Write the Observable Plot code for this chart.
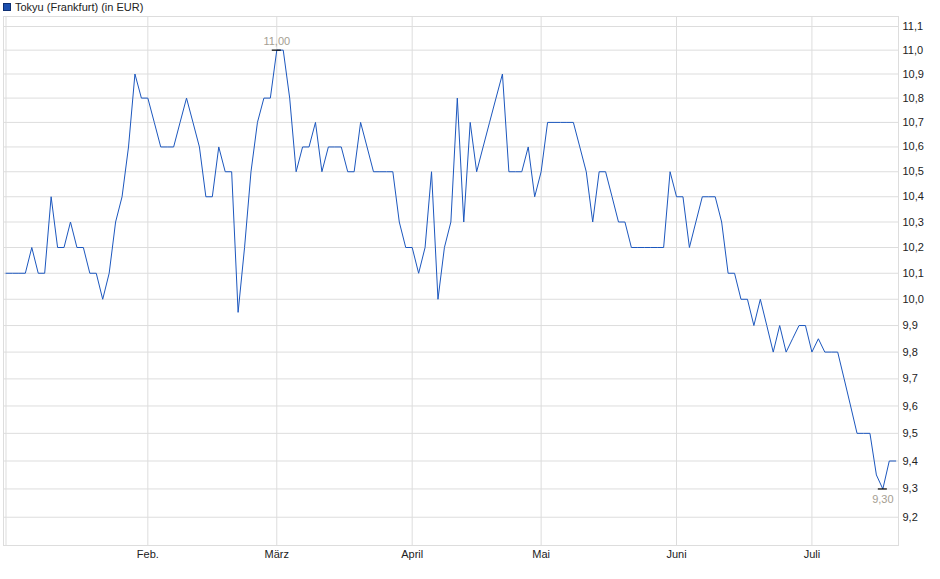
<!DOCTYPE html>
<html>
<head>
<meta charset="utf-8">
<script src="https://cdn.jsdelivr.net/npm/d3@7"></script>
<script src="https://cdn.jsdelivr.net/npm/@observablehq/plot@0.6"></script>
<style>
  html, body { margin: 0; padding: 0; background: #fff; }
  #wrap { position: relative; width: 940px; height: 579px; font-family: "Liberation Sans", Arial, sans-serif; }
  #title { position: absolute; left: 15px; top: 0px; font-size: 11px; line-height: 14px; color: #222; }
  #swatch { position: absolute; left: 3px; top: 3px; width: 6px; height: 6px; background: #1b4fae; border: 1px solid #0e2f72; }
  #chart { position: absolute; left: 0; top: 0; }
</style>
</head>
<body>
<div id="wrap">
  <div id="chart"></div>
  <div id="swatch"></div>
  <div id="title">Tokyu (Frankfurt) (in EUR)</div>
</div>
<script>
// Daily closing prices (trading days, Jan – Jul)
const prices = [
  10.1, 10.1, 10.1, 10.1, 10.2, 10.1, 10.1, 10.4, 10.2, 10.2,
  10.3, 10.2, 10.2, 10.1, 10.1, 10.0, 10.1, 10.3, 10.4, 10.6,
  10.9, 10.8, 10.8, 10.7, 10.6, 10.6, 10.6, 10.7, 10.8, 10.7,
  10.6, 10.4, 10.4, 10.6, 10.5, 10.5, 9.95, 10.2, 10.5, 10.7,
  10.8, 10.8, 11.0, 11.0, 10.8, 10.5, 10.6, 10.6, 10.7, 10.5,
  10.6, 10.6, 10.6, 10.5, 10.5, 10.7, 10.6, 10.5, 10.5, 10.5,
  10.5, 10.3, 10.2, 10.2, 10.1, 10.2, 10.5, 10.0, 10.2, 10.3,
  10.8, 10.3, 10.7, 10.5, 10.6, 10.7, 10.8, 10.9, 10.5, 10.5,
  10.5, 10.6, 10.4, 10.5, 10.7, 10.7, 10.7, 10.7, 10.7, 10.6,
  10.5, 10.3, 10.5, 10.5, 10.4, 10.3, 10.3, 10.2, 10.2, 10.2,
  10.2, 10.2, 10.2, 10.5, 10.4, 10.4, 10.2, 10.3, 10.4, 10.4,
  10.4, 10.3, 10.1, 10.1, 10.0, 10.0, 9.9, 10.0, 9.9, 9.8,
  9.9, 9.8, 9.85, 9.9, 9.9, 9.8, 9.85, 9.8, 9.8, 9.8,
  9.7, 9.6, 9.5, 9.5, 9.5, 9.35, 9.3, 9.4, 9.4
];
// Trading-day index of each month start and its label
const monthIdx = [0, 22, 42, 63, 83, 104, 125];
const monthLabels = ["", "Feb.", "März", "April", "Mai", "Juni", "Juli"];
// Price axis ticks
const yTicks = [9.2, 9.3, 9.4, 9.5, 9.6, 9.7, 9.8, 9.9, 10.0, 10.1, 10.2, 10.3, 10.4, 10.5, 10.6, 10.7, 10.8, 10.9, 11.0, 11.1];

const data = prices.map((v, i) => ({i, v}));
const maxPt = data.reduce((a, b) => (b.v > a.v ? b : a));
const minPt = data.reduce((a, b) => (b.v < a.v ? b : a));
const de = (d, n) => d.toFixed(n).replace(".", ",");
const labelOf = new Map(monthIdx.map((m, k) => [m, monthLabels[k]]));

const grid = "#dddddd";
const chart = Plot.plot({
  width: 940,
  height: 579,
  marginTop: 16,
  marginBottom: 34,
  marginLeft: 3,
  marginRight: 42,
  style: {fontFamily: "Liberation Sans, Arial, sans-serif", fontSize: "11px", color: "#222", background: "transparent"},
  x: {type: "linear", domain: [-0.388, 138.43]},
  y: {type: "log", domain: [9.101, 11.1425]},
  marks: [
    Plot.ruleY(yTicks, {stroke: grid, strokeWidth: 1}),
    Plot.ruleX(monthIdx, {stroke: grid, strokeWidth: 1}),
    Plot.frame({stroke: grid, strokeWidth: 1}),
    Plot.axisY(yTicks, {anchor: "right", tickSize: 0, tickPadding: 4, tickFormat: d => de(d, 1), fill: "#222", label: null}),
    Plot.axisX(monthIdx, {anchor: "bottom", tickSize: 0, tickPadding: 5, tickFormat: d => labelOf.get(d), fill: "#222", label: null}),
    Plot.line(data, {x: "i", y: "v", stroke: "#1c57be", strokeWidth: 1}),
    Plot.ruleY([maxPt, minPt], {x1: d => d.i - 0.7, x2: d => d.i + 0.7, y: "v", stroke: "#000", strokeWidth: 1.2}),
    Plot.text([maxPt], {x: "i", y: "v", text: d => de(d.v, 2), dy: -9, fill: "#a59e92", fontSize: 11}),
    Plot.text([minPt], {x: "i", y: "v", text: d => de(d.v, 2), dy: 11, fill: "#a59e92", fontSize: 11})
  ]
});
document.getElementById("chart").appendChild(chart);
</script>
</body>
</html>
